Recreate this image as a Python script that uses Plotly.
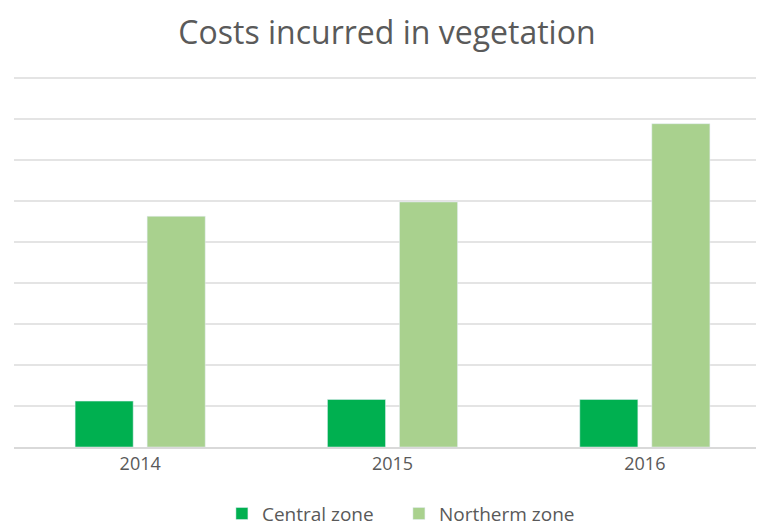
import plotly.graph_objects as go

years = ["2014", "2015", "2016"]
central = [1.12, 1.16, 1.16]
northern = [5.63, 5.98, 7.89]

fig = go.Figure()
fig.add_trace(go.Bar(x=years, y=central, name="Central zone", marker_color="#00b050"))
fig.add_trace(go.Bar(x=years, y=northern, name="Northerm zone", marker_color="#a9d18e"))

fig.update_layout(
    width=764, height=524,
    margin=dict(l=6, r=1, t=69, b=85, autoexpand=False),
    paper_bgcolor="white", plot_bgcolor="white",
    title=dict(text="Costs incurred in vegetation", x=0.496, xanchor="center", xref="container",
               y=0.952, yanchor="middle", yref="container",
               font=dict(family="Open Sans", size=32, color="#5a5a5a")),
    barmode="group", bargap=0.429, bargroupgap=0.194,
    font=dict(family="Open Sans", color="#595959"),
    legend=dict(orientation="h", x=0.280, xanchor="left", xref="container",
                y=0.035, yanchor="middle", yref="container",
                font=dict(family="Open Sans", size=19, color="#595959"), itemwidth=30,
                entrywidth=132, entrywidthmode="pixels",
                traceorder="normal"),
    showlegend=True,
)
fig.update_xaxes(range=[-0.5, 2.5], showgrid=False, ticks="", tickfont=dict(size=18, color="#595959"),
                 showline=True, linecolor="#d9d9d9", linewidth=1.5)
fig.update_yaxes(range=[0, 9.03], dtick=1, showticklabels=False, showgrid=True, gridcolor="#e4e4e4",
                 gridwidth=1.5, zeroline=False)

fig.write_html("out.html")
